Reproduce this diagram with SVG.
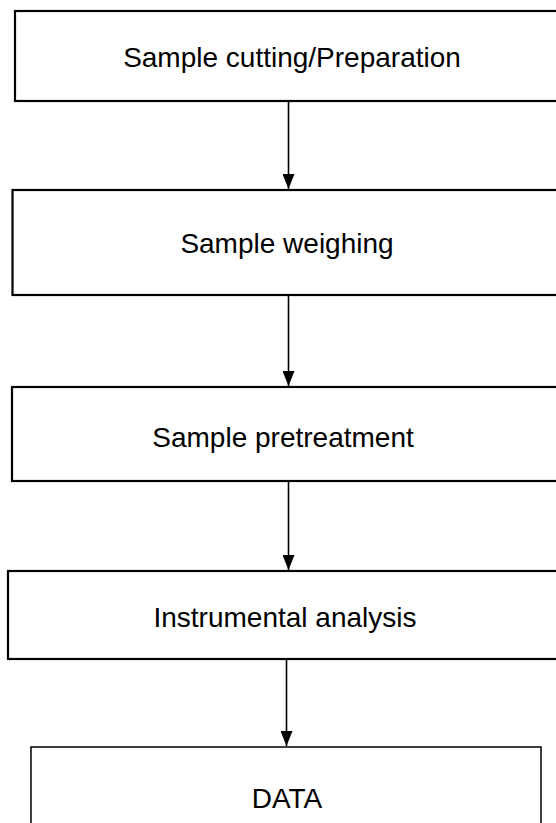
<svg xmlns="http://www.w3.org/2000/svg" width="556" height="823" viewBox="0 0 556 823">
<defs>
<style>
.box{fill:#fff;stroke:#000;stroke-width:2.2}
.lbl{font-family:"Liberation Sans",Arial,sans-serif;font-size:28px;fill:#000;text-anchor:middle}
.con{stroke:#000;stroke-width:1.6;fill:none;marker-end:url(#ah)}
</style>
<marker id="ah" markerWidth="15" markerHeight="12" refX="15" refY="6" orient="auto" markerUnits="userSpaceOnUse" viewBox="0 0 15 12">
<path d="M0,0 L15,6 L0,12 Z" fill="#000"/>
</marker>
</defs>
<rect width="556" height="823" fill="#fff"/>
<g id="n1"><rect class="box" x="15" y="11" width="560" height="90"/><text class="lbl" x="292" y="67">Sample cutting/Preparation</text></g>
<g id="n2"><rect class="box" x="12.5" y="190" width="560" height="105"/><text class="lbl" x="287" y="253">Sample weighing</text></g>
<g id="n3"><rect class="box" x="12" y="387" width="560" height="94"/><text class="lbl" x="283" y="447">Sample pretreatment</text></g>
<g id="n4"><rect class="box" x="8" y="571" width="560" height="88"/><text class="lbl" x="285" y="627">Instrumental analysis</text></g>
<g id="n5"><rect class="box" x="31" y="747" width="510" height="100" style="stroke-width:1.5"/><text class="lbl" x="287" y="808">DATA</text></g>
<g id="connectors">
<line class="con" x1="288.5" y1="102" x2="288.5" y2="189"/>
<line class="con" x1="288.5" y1="296" x2="288.5" y2="386"/>
<line class="con" x1="288.5" y1="482" x2="288.5" y2="570"/>
<line class="con" x1="286.5" y1="660" x2="286.5" y2="746"/>
</g>
</svg>
